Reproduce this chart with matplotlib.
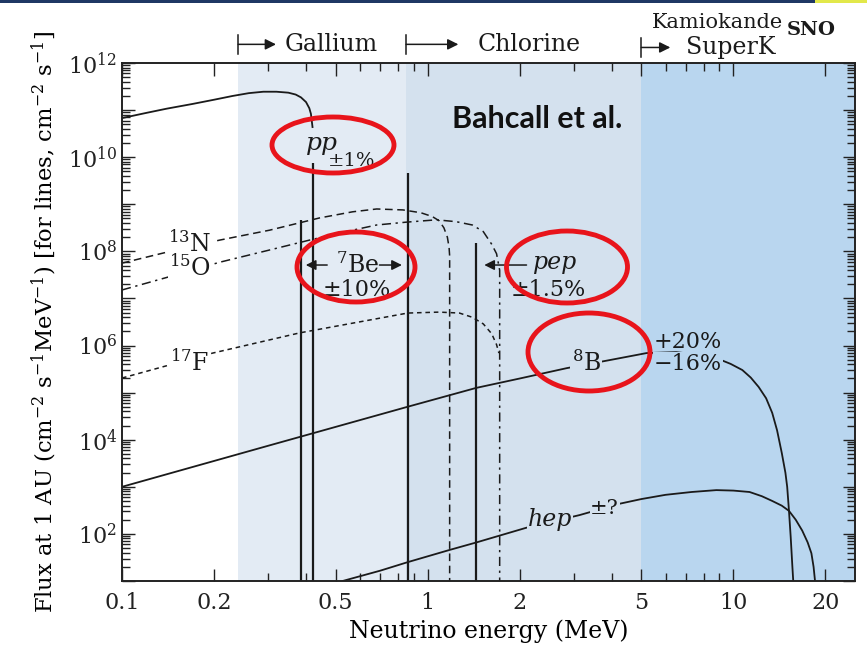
import numpy as np
import matplotlib
matplotlib.use('Agg')
import matplotlib.pyplot as plt
from matplotlib.patches import Ellipse, Rectangle
from matplotlib.ticker import LogLocator, FuncFormatter, NullFormatter
import matplotlib.transforms as mtransforms

plt.rcParams['font.family'] = ['DejaVu Serif']
plt.rcParams['mathtext.fontset'] = 'dejavuserif'

# ---------------- data ----------------
pp_E = [0.1, 0.12, 0.14, 0.17, 0.2, 0.23, 0.26, 0.29, 0.32, 0.35, 0.37,
        0.385, 0.40, 0.41, 0.415, 0.42]
pp_logF = [10.83, 10.94, 11.03, 11.13, 11.22, 11.30, 11.36, 11.39, 11.39,
           11.37, 11.33, 11.27, 11.17, 11.04, 10.92, 10.64]
pp_tail_E = 0.42
pp_tail_logF = 9.88

line_E = [0.384, 0.862, 1.442]          # 7Be, 7Be, pep lines
line_logF = [8.67, 9.66, 8.18]

n13_E = [0.1, 0.15, 0.209, 0.304, 0.443, 0.568, 0.681, 0.83, 0.95, 1.035,
         1.09, 1.13, 1.16, 1.175, 1.18]
n13_logF = [7.75, 8.03, 8.24, 8.45, 8.71, 8.84, 8.90, 8.88, 8.82, 8.74,
            8.65, 8.50, 8.30, 8.08, 7.9]

o15_E = [0.1, 0.15, 0.209, 0.3, 0.411, 0.55, 0.681, 0.85, 1.07, 1.24, 1.40,
         1.52, 1.62, 1.68, 1.72]
o15_logF = [7.18, 7.50, 7.77, 8.02, 8.24, 8.43, 8.56, 8.62, 8.67, 8.63, 8.56,
            8.42, 8.15, 7.95, 7.6]

f17_E = [0.1, 0.198, 0.382, 0.86, 1.09, 1.27, 1.40, 1.52, 1.62, 1.68, 1.71]
f17_logF = [5.31, 5.84, 6.27, 6.69, 6.71, 6.69, 6.60, 6.46, 6.25, 6.02, 5.84]

b8_E = [0.1, 0.3, 0.86, 1.44, 2.0, 2.85, 3.93, 5.2, 6.5, 7.8, 8.9, 9.8,
        10.7, 11.4, 12.1, 12.8, 13.4, 13.9, 14.4, 14.8, 15.0, 15.2, 15.4,
        15.6, 15.7]
b8_logF = [3.0, 3.87, 4.70, 5.10, 5.30, 5.52, 5.69, 5.84, 5.86, 5.80, 5.72,
           5.61, 5.48, 5.32, 5.12, 4.88, 4.57, 4.20, 3.72, 3.30, 3.0, 2.5,
           1.94, 1.3, 1.0]

hep_E = [0.527, 0.7, 0.86, 1.18, 1.445, 2.1, 3.14, 4.24, 5.0, 6.0, 7.3, 8.8,
         10.0, 11.3, 12.4, 13.4, 14.4, 15.2, 16.0, 16.8, 17.5, 18.0, 18.3,
         18.5]
hep_logF = [1.0, 1.22, 1.40, 1.66, 1.82, 2.13, 2.40, 2.64, 2.74, 2.83, 2.89,
            2.93, 2.92, 2.89, 2.80, 2.70, 2.60, 2.49, 2.30, 2.07, 1.82, 1.59,
            1.3, 1.0]

thresholds = [0.24, 0.85, 5.0]           # Gallium, Chlorine, SuperK
region_colors = ['#e3ebf4', '#d4e1ee', '#b9d6ef']

x_ticks = [0.1, 0.2, 0.5, 1, 2, 5, 10, 20]
x_ticklabels = ['0.1', '0.2', '0.5', '1', '2', '5', '10', '20']

XMIN, XMAX = 0.1, 25.0
YMIN, YMAX = 1e1, 1e12

W, H = 867, 654
fig = plt.figure(figsize=(W / 100, H / 100), dpi=100)
ax = fig.add_axes([122 / W, 1 - 581 / H, (855 - 122) / W, (581 - 63) / H])
ax.set_xscale('log')
ax.set_yscale('log')
ax.set_xlim(XMIN, XMAX)
ax.set_ylim(YMIN, YMAX)

# shaded detector regions
edges = thresholds + [XMAX]
for i in range(3):
    ax.axvspan(edges[i], edges[i + 1], color=region_colors[i], lw=0, zorder=0)

def p10(a):
    return 10 ** np.asarray(a, dtype=float)

ink = '#1a1a1a'
lw = 1.3
# pp
ax.plot(pp_E, p10(pp_logF), color=ink, lw=lw)
ax.vlines(pp_tail_E, YMIN, 10 ** pp_tail_logF, color=ink, lw=1.6)
# lines
ax.vlines(line_E, YMIN, p10(line_logF), color=ink, lw=1.6)
# 13N dashed
ax.plot(n13_E + [n13_E[-1]], list(p10(n13_logF)) + [YMIN], color=ink,
        lw=1.1, ls=(0, (5, 3)))
# 15O dash-dot
ax.plot(o15_E + [o15_E[-1]], list(p10(o15_logF)) + [YMIN], color=ink,
        lw=1.1, ls=(0, (6, 3, 1.5, 3)))
# 17F short dashes
ax.plot(f17_E, p10(f17_logF), color=ink, lw=1.1, ls=(0, (3, 2.5)))
# 8B
ax.plot(b8_E, p10(b8_logF), color=ink, lw=lw)
# hep
ax.plot(hep_E, p10(hep_logF), color=ink, lw=lw)

# ticks
ax.set_xticks(x_ticks)
ax.set_xticklabels(x_ticklabels)
ax.xaxis.set_minor_locator(LogLocator(base=10, subs=np.arange(2, 10)))
ax.xaxis.set_minor_formatter(NullFormatter())
ax.yaxis.set_major_locator(LogLocator(base=10, numticks=20))
ax.yaxis.set_major_formatter(FuncFormatter(
    lambda v, p: r'$10^{%d}$' % round(np.log10(v)) if round(np.log10(v)) % 2 == 0 else ''))
ax.yaxis.set_minor_locator(LogLocator(base=10, subs=np.arange(2, 10), numticks=20))
ax.yaxis.set_minor_formatter(NullFormatter())
ax.tick_params(which='both', direction='in', top=True, right=True, labelsize=16,
               width=1.0, colors='#222222')
ax.tick_params(which='major', length=9)
ax.tick_params(which='minor', length=6)
ax.tick_params(axis='x', pad=8)
for s in ax.spines.values():
    s.set_linewidth(1.4)
    s.set_color('#222222')

ax.set_xlabel('Neutrino energy (MeV)', fontsize=17, labelpad=4)
ax.set_ylabel(r'Flux at 1 AU (cm$^{-2}$ s$^{-1}$MeV$^{-1}$) [for lines, cm$^{-2}$ s$^{-1}$]',
              fontsize=16.3, labelpad=6)

# curve labels
ax.text(0.167, 10 ** 8.16, r'$^{13}$N', fontsize=17, ha='center', va='center', color=ink,
        bbox=dict(fc='white', ec='none', pad=1))
ax.text(0.167, 10 ** 7.65, r'$^{15}$O', fontsize=17, ha='center', va='center', color=ink,
        bbox=dict(fc='white', ec='none', pad=1))
ax.text(0.167, 10 ** 5.65, r'$^{17}$F', fontsize=17, ha='center', va='center', color=ink,
        bbox=dict(fc='white', ec='none', pad=1))

ax.text(0.451, 10 ** 10.28, 'pp', fontsize=18, style='italic', ha='center', va='center', color=ink)
ax.text(0.47, 10 ** 9.92, '±1%', fontsize=14, ha='left', va='center', color=ink)

ax.text(0.591, 10 ** 7.70, r'$^{7}$Be', fontsize=17, ha='center', va='center', color=ink)
ax.text(0.585, 10 ** 7.18, '±10%', fontsize=16, ha='center', va='center', color=ink)
ax.annotate('', xy=(0.391, 10 ** 7.71), xytext=(0.479, 10 ** 7.71),
            arrowprops=dict(arrowstyle='-|>', color=ink, lw=1.1, mutation_scale=15))
ax.annotate('', xy=(0.841, 10 ** 7.71), xytext=(0.681, 10 ** 7.71),
            arrowprops=dict(arrowstyle='-|>', color=ink, lw=1.1, mutation_scale=15))

ax.text(2.62, 10 ** 7.77, 'pep', fontsize=17, style='italic', ha='center', va='center', color=ink)
ax.text(2.48, 10 ** 7.18, '±1.5%', fontsize=16, ha='center', va='center', color=ink)
ax.annotate('', xy=(1.50, 10 ** 7.71), xytext=(2.15, 10 ** 7.71),
            arrowprops=dict(arrowstyle='-|>', color=ink, lw=1.1, mutation_scale=15))

ax.text(3.3, 10 ** 5.62, r'$^{8}$B', fontsize=17, ha='center', va='center', color=ink,
        bbox=dict(fc=region_colors[1], ec='none', pad=1))
ax.text(5.5, 10 ** 6.08, '+20%', fontsize=16, ha='left', va='center', color=ink)
ax.text(5.5, 10 ** 5.61, '−16%', fontsize=16, ha='left', va='center', color=ink,
        bbox=dict(fc=region_colors[2], ec='none', pad=0.5))

ax.text(2.52, 10 ** 2.30, 'hep', fontsize=17, style='italic', ha='center', va='center', color=ink,
        bbox=dict(fc=region_colors[1], ec='none', pad=0.5))
ax.text(3.79, 10 ** 2.55, '±?', fontsize=15, ha='center', va='center', color=ink,
        bbox=dict(fc=region_colors[1], ec='none', pad=0.5))

ax.text(2.29, 10 ** 10.82, 'Bahcall et al.', fontsize=22, fontweight='bold',
        family=['Lato', 'DejaVu Sans'], ha='center', va='center', color='#111111')

# top detector annotations
blend = mtransforms.blended_transform_factory(ax.transData, ax.transAxes)
def top_arrow(x0, x1, xt, label, yf, fs):
    ax.plot([x0, x0], [yf - 0.018, yf + 0.018], color=ink, lw=1.1,
            transform=blend, clip_on=False)
    ax.annotate('', xy=(x1, yf), xytext=(x0, yf), xycoords=blend, textcoords=blend,
                arrowprops=dict(arrowstyle='-|>', color=ink, lw=1.1, mutation_scale=16,
                                shrinkA=0, shrinkB=0), annotation_clip=False)
    ax.text(xt, yf, label, transform=blend, fontsize=fs, ha='left', va='center',
            color=ink, clip_on=False)

top_arrow(thresholds[0], 0.319, 0.341, 'Gallium', 1.036, 17)
top_arrow(thresholds[1], 1.26, 1.455, 'Chlorine', 1.036, 17)
top_arrow(thresholds[2], 6.22, 7.0, 'SuperK', 1.03, 17)
ax.text(5.40, 1.079, 'Kamiokande', transform=blend, fontsize=15, ha='left', va='center',
        color=ink, clip_on=False)
ax.text(15.0, 1.064, 'SNO', transform=blend, fontsize=14, fontweight='bold', ha='left',
        va='center', color=ink, clip_on=False)

# red highlight ellipses (pixel positions of the slide overlay)
def px(x, y):
    return (x / W, 1 - y / H)
for cx, cy, w, h in [(333, 145, 122, 56), (356, 267, 118, 70),
                     (567, 267, 121, 72), (589, 352, 122, 78)]:
    fig.patches.append(Ellipse(px(cx, cy), w / W, h / H, transform=fig.transFigure,
                               fill=False, ec='#e8141b', lw=3.5, zorder=10))

# slide header strip
fig.patches.append(Rectangle((0, 1 - 3 / H), 815 / W, 3 / H, transform=fig.transFigure,
                             fc='#1f3864', ec='none'))
fig.patches.append(Rectangle((815 / W, 1 - 3 / H), 52 / W, 3 / H, transform=fig.transFigure,
                             fc='#e2e84a', ec='none'))

fig.savefig('out.png', dpi=100)
